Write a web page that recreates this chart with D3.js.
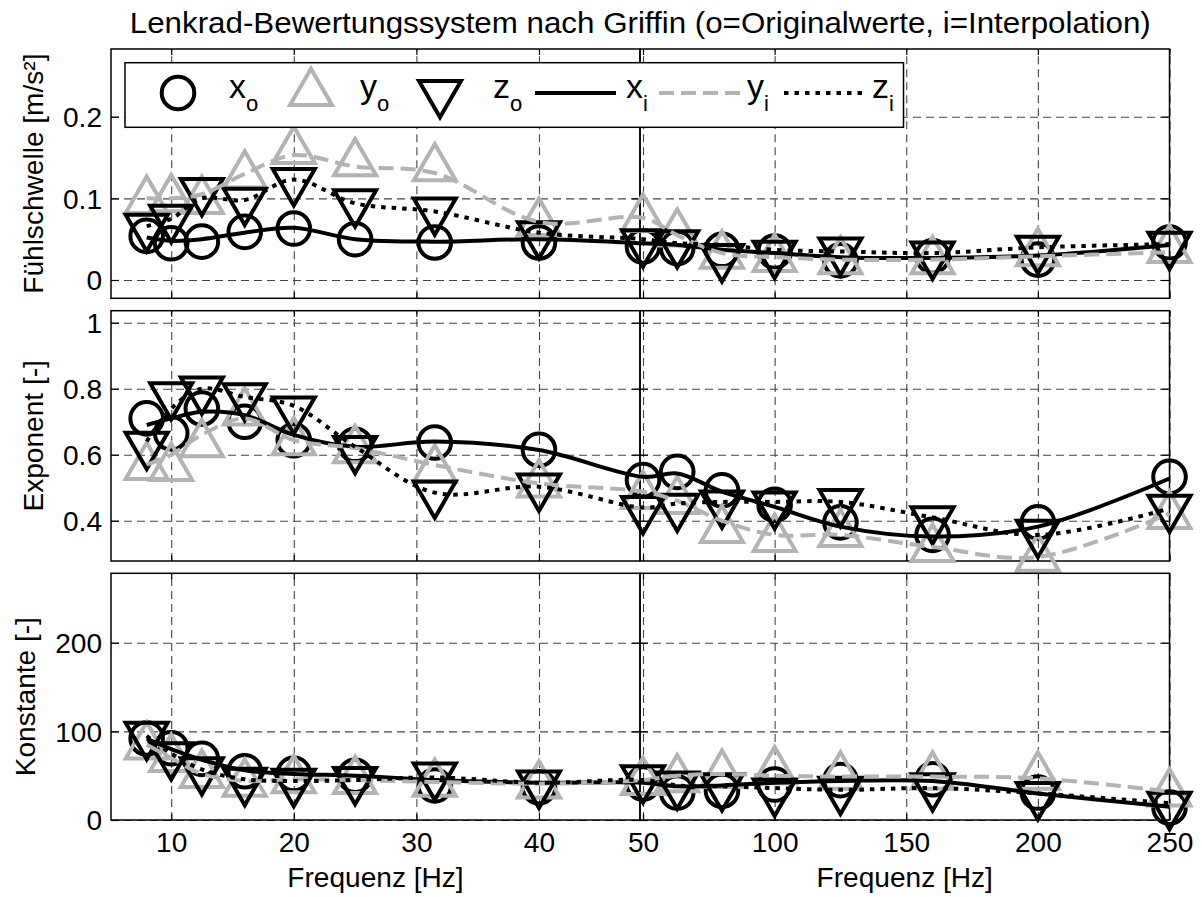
<!DOCTYPE html>
<html>
<head>
<meta charset="utf-8">
<script src="https://cdn.jsdelivr.net/npm/d3@7/dist/d3.min.js"></script>
<style>
html,body{margin:0;padding:0;background:#fff;}
</style>
</head>
<body>
<svg id="chart" width="1202" height="897"></svg>
<script>
// ---------------- data ----------------
const freqs = [8, 10, 12.5, 16, 20, 25, 31.5, 40, 50, 63, 80, 100, 125, 160, 200, 250];
const xTicksLeft = [10, 20, 30, 40];
const xTicksRight = [50, 100, 150, 200, 250];
const thrTicks = [0, 0.1, 0.2];
const expTicks = [0.4, 0.6, 0.8, 1];
const konTicks = [0, 100, 200];

// Fühlschwelle [m/s²]
const thrXo = [0.054,0.045,0.047,0.059,0.063,0.050,0.046,0.046,0.041,0.039,0.037,0.035,0.024,0.029,0.025,0.046];
const thrYo = [0.097,0.099,0.097,0.128,0.158,0.143,0.137,0.070,0.075,0.057,0.030,0.026,0.023,0.023,0.033,0.037];
const thrZo = [0.065,0.076,0.109,0.097,0.121,0.095,0.085,0.056,0.046,0.045,0.028,0.032,0.036,0.031,0.038,0.043];
const thrXi = [0.052,0.048,0.050,0.058,0.064,0.050,0.047,0.050,0.045,0.043,0.037,0.033,0.028,0.027,0.030,0.043];
const thrYi = [0.100,0.100,0.105,0.130,0.153,0.139,0.131,0.071,0.076,0.055,0.033,0.028,0.025,0.025,0.029,0.034];
const thrZi = [0.066,0.075,0.100,0.098,0.123,0.094,0.084,0.058,0.050,0.045,0.043,0.037,0.035,0.033,0.040,0.044];

// Exponent [-]
const expXo = [0.710,0.665,0.740,0.700,0.644,0.630,0.637,0.615,0.523,0.548,0.492,0.448,0.395,0.357,0.395,0.533];
const expYo = [0.563,0.560,0.632,0.728,0.638,0.614,0.555,0.510,0.475,0.460,0.372,0.345,0.360,0.315,0.285,0.415];
const expZo = [0.630,0.780,0.797,0.777,0.737,0.617,0.482,0.503,0.435,0.442,0.452,0.449,0.456,0.404,0.363,0.439];
const expXi = [0.690,0.710,0.730,0.720,0.660,0.624,0.640,0.614,0.533,0.543,0.488,0.442,0.382,0.352,0.382,0.528];
const expYi = [0.570,0.600,0.660,0.710,0.644,0.620,0.569,0.513,0.488,0.460,0.400,0.357,0.357,0.320,0.290,0.422];
const expZi = [0.640,0.740,0.800,0.775,0.748,0.624,0.485,0.503,0.440,0.452,0.457,0.457,0.457,0.410,0.357,0.437];

// Konstante [-]
const konXo = [92,81,69,55,52,50,39,37,41,31,33,40,45,46,31,14];
const konYo = [83,69,51,41,45,44,41,39,43,46,51,55,49,49,49,30];
const konZo = [96,73,56,44,43,45,50,41,47,40,38,32,34,38,28,17];
const konXi = [92,80,68,56,52,50,45,42,42,38,39,42,44,44,30,15];
const konYi = [85,70,52,44,46,45,43,41,45,50,52,50,49,49,47,32];
const konZi = [95,75,57,46,44,45,48,42,45,39,38,36,34,36,30,19];

const titleText = "Lenkrad-Bewertungssystem nach Griffin (o=Originalwerte, i=Interpolation)";
const xLabelText = "Frequenz [Hz]";
const legendMain = ["x", "y", "z", "x", "y", "z"];
const legendSub = ["o", "o", "o", "i", "i", "i"];

// ---------------- layout / style ----------------
const FONT = '"Liberation Sans", Arial, Helvetica, sans-serif';
const FS = 27, SX = 1.04;
const GREY = "#b3b3b3";
const LW = 4;
const L = 111, S = 640, R = 1169.5;

const svg = d3.select("#chart");
svg.append("rect").attr("width", 1202).attr("height", 897).attr("fill", "#fff");

const xLeft = d3.scaleLinear().domain([5.09, 48.24]).range([L, S]);
const xRight = d3.scaleLinear().domain([48.86, 250]).range([S, R]);
const xData = d3.scaleLinear().domain([5.09, 48.24, 48.86, 250]).range([L, S, S, R]);

const panels = [
  {top: 49, bottom: 298.3, dom: [-0.0224, 0.2829], ticks: thrTicks, label: "Fühlschwelle [m/s²]", labelX: 43,
   data: [thrXo, thrYo, thrZo, thrXi, thrYi, thrZi]},
  {top: 310.7, bottom: 561, dom: [0.2779, 1.0364], ticks: expTicks, label: "Exponent [-]", labelX: 43,
   data: [expXo, expYo, expZo, expXi, expYi, expZi]},
  {top: 573.3, bottom: 820, dom: [0, 278.3], ticks: konTicks, label: "Konstante [-]", labelX: 35,
   data: [konXo, konYo, konZo, konXi, konYi, konZi]}
];

const markerStyles = [
  {sym: d3.symbolCircle, size: Math.PI * 16.3 * 16.3, color: "#000", rot: 0},
  {sym: d3.symbolTriangle, size: 42 * 42 * Math.sqrt(3) / 4, color: GREY, rot: 0},
  {sym: d3.symbolTriangle, size: 42 * 42 * Math.sqrt(3) / 4, color: "#000", rot: 180}
];
const lineStyles = [
  {color: "#000", dash: null},
  {color: GREY, dash: "15,7"},
  {color: "#000", dash: "4.5,6"}
];

const gridStyle = sel => {
  sel.select(".domain").remove();
  sel.selectAll("text").remove();
  sel.selectAll("line").attr("stroke", "#444").attr("stroke-width", 1.1).attr("stroke-dasharray", "8,5");
};
const tickStyle = sel => {
  sel.select(".domain").remove();
  sel.selectAll("line").attr("stroke", "#000").attr("stroke-width", 1.2);
  sel.attr("font-size", FS).attr("font-family", FONT);
};

panels.forEach((p, pi) => {
  const y = d3.scaleLinear().domain(p.dom).range([p.bottom, p.top]);
  const h = p.bottom - p.top;
  const g = svg.append("g");

  // grid
  g.append("g").attr("transform", `translate(${L},0)`)
    .call(d3.axisLeft(y).tickValues(p.ticks).tickSize(-(S - L)).tickFormat("")).call(gridStyle);
  g.append("g").attr("transform", `translate(${S},0)`)
    .call(d3.axisLeft(y).tickValues(p.ticks).tickSize(-(R - S)).tickFormat("")).call(gridStyle);
  g.append("g").attr("transform", `translate(0,${p.bottom})`)
    .call(d3.axisBottom(xLeft).tickValues(xTicksLeft).tickSize(-h).tickFormat("")).call(gridStyle);
  g.append("g").attr("transform", `translate(0,${p.bottom})`)
    .call(d3.axisBottom(xRight).tickValues(xTicksRight).tickSize(-h).tickFormat("")).call(gridStyle);

  // ticks (inward, on all sides of both boxes)
  const yAx = g.append("g").attr("transform", `translate(${L},0)`)
    .call(d3.axisLeft(y).tickValues(p.ticks).tickSize(-8).tickPadding(9).tickFormat(d => String(d)))
    .call(tickStyle);
  yAx.selectAll("text").attr("x", -9 / SX).attr("dy", "0.36em").attr("transform", `scale(${SX},1)`);

  g.append("g").attr("transform", `translate(${S},0)`)
    .call(d3.axisRight(y).tickValues(p.ticks).tickSize(-8).tickFormat("")).call(tickStyle);
  g.append("g").attr("transform", `translate(${S},0)`)
    .call(d3.axisLeft(y).tickValues(p.ticks).tickSize(-8).tickFormat("")).call(tickStyle);
  g.append("g").attr("transform", `translate(${R},0)`)
    .call(d3.axisRight(y).tickValues(p.ticks).tickSize(-8).tickFormat("")).call(tickStyle);

  [[xLeft, xTicksLeft], [xRight, xTicksRight]].forEach(([sc, tv]) => {
    g.append("g").attr("transform", `translate(0,${p.top})`)
      .call(d3.axisTop(sc).tickValues(tv).tickSize(-6).tickFormat("")).call(tickStyle);
    const bx = g.append("g").attr("transform", `translate(0,${p.bottom})`)
      .call(d3.axisBottom(sc).tickValues(tv).tickSize(-6).tickPadding(13)
        .tickFormat(pi === panels.length - 1 ? (d => String(d)) : ""))
      .call(tickStyle);
    bx.selectAll("text").attr("transform", `scale(${SX},1)`);
  });

  // boxes
  g.append("rect").attr("x", L).attr("y", p.top).attr("width", S - L).attr("height", h)
    .attr("fill", "none").attr("stroke", "#000").attr("stroke-width", 1.5);
  g.append("rect").attr("x", S).attr("y", p.top).attr("width", R - S).attr("height", h)
    .attr("fill", "none").attr("stroke", "#000").attr("stroke-width", 1.5);

  // y label
  g.append("text")
    .attr("transform", `translate(${p.labelX},${(p.top + p.bottom) / 2}) rotate(-90) scale(${SX},1)`)
    .attr("text-anchor", "middle").attr("font-family", FONT).attr("font-size", FS)
    .text(p.label);

  // markers
  markerStyles.forEach((ms, si) => {
    const sym = d3.symbol().type(ms.sym).size(ms.size);
    g.append("g").selectAll("path").data(p.data[si]).join("path")
      .attr("d", sym)
      .attr("transform", (v, i) => `translate(${xData(freqs[i])},${y(v)}) rotate(${ms.rot})`)
      .attr("fill", "none").attr("stroke", ms.color).attr("stroke-width", LW)
      .attr("stroke-linejoin", "miter");
  });

  // interpolation lines
  lineStyles.forEach((ls, li) => {
    const line = d3.line().x((v, i) => xData(freqs[i])).y(v => y(v)).curve(d3.curveCatmullRom.alpha(0.5));
    g.append("path").datum(p.data[3 + li])
      .attr("d", line)
      .attr("fill", "none").attr("stroke", ls.color).attr("stroke-width", LW)
      .attr("stroke-dasharray", ls.dash);
  });
});

// x-axis labels
[[xLeft, (L + S) / 2], [xRight, (S + R) / 2]].forEach(([sc, cx]) => {
  svg.append("text").attr("transform", `translate(${cx},887) scale(${SX},1)`)
    .attr("text-anchor", "middle").attr("font-family", FONT).attr("font-size", FS)
    .text(xLabelText);
});

// title
svg.append("text").attr("transform", `translate(${(L + R) / 2},33) scale(1.08,1)`)
  .attr("text-anchor", "middle").attr("font-family", FONT).attr("font-size", 29)
  .text(titleText);

// legend
const leg = svg.append("g");
leg.append("rect").attr("x", 125).attr("y", 62.7).attr("width", 778.5).attr("height", 64.6)
  .attr("fill", "#fff").attr("stroke", "#000").attr("stroke-width", 1.5);
const legY = 93;
const markerX = [178, 311, 440];
const lineX = [[535, 616], [659, 740], [784, 864]];
const textX = [229, 360, 493, 626, 747, 872];
markerStyles.forEach((ms, si) => {
  leg.append("path").attr("d", d3.symbol().type(ms.sym).size(ms.size))
    .attr("transform", `translate(${markerX[si]},${legY}) rotate(${ms.rot})`)
    .attr("fill", "none").attr("stroke", ms.color).attr("stroke-width", LW).attr("stroke-linejoin", "miter");
});
lineStyles.forEach((ls, li) => {
  leg.append("line").attr("x1", lineX[li][0]).attr("x2", lineX[li][1]).attr("y1", legY).attr("y2", legY)
    .attr("stroke", ls.color).attr("stroke-width", LW).attr("stroke-dasharray", ls.dash);
});
legendMain.forEach((m, i) => {
  const t = leg.append("text").attr("x", textX[i]).attr("y", 98)
    .attr("font-family", FONT).attr("font-size", 34);
  t.append("tspan").text(m);
  t.append("tspan").attr("dy", 13).attr("font-size", 22).text(legendSub[i]);
});
</script>
</body>
</html>
